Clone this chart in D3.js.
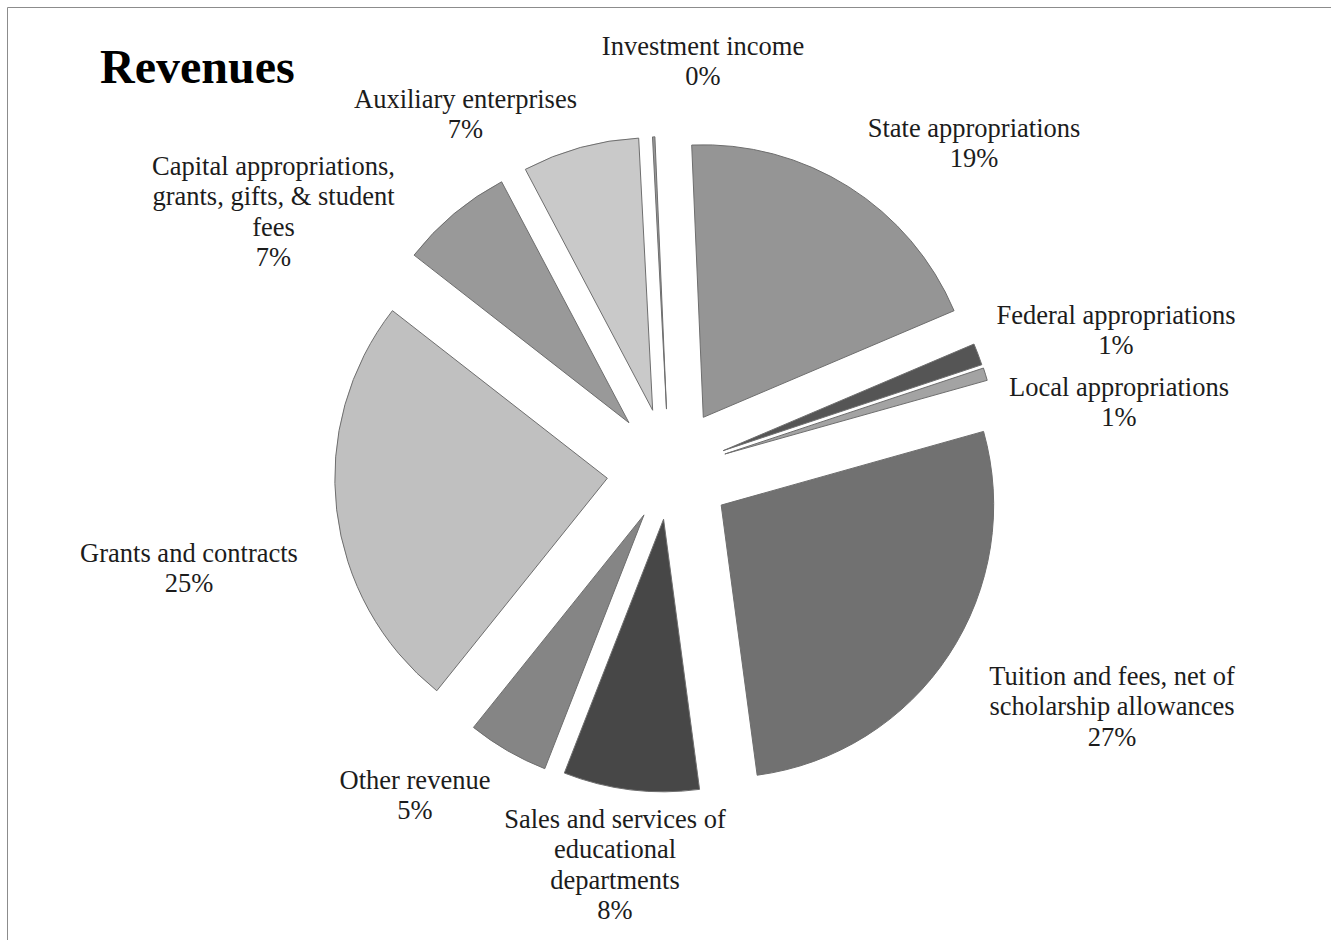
<!DOCTYPE html>
<html>
<head>
<meta charset="utf-8">
<title>Revenues</title>
<script src="https://cdn.jsdelivr.net/npm/d3@7"></script>
<style>
  html, body { margin: 0; padding: 0; background: #ffffff; }
  svg { display: block; }
</style>
</head>
<body>
<svg id="chart" width="1331" height="940"></svg>
<script>
// Revenue sources, clockwise from the top of the pie ("\n" marks label line breaks)
const categories = [
  "State appropriations",
  "Federal appropriations",
  "Local appropriations",
  "Tuition and fees, net of\nscholarship allowances",
  "Sales and services of\neducational\ndepartments",
  "Other revenue",
  "Grants and contracts",
  "Capital appropriations,\ngrants, gifts, & student\nfees",
  "Auxiliary enterprises",
  "Investment income"
];

// Share of total revenue, percent
const values = [19.28, 1.29, 0.75, 27.25, 8.04, 4.83, 24.78, 6.72, 6.92, 0.14];

// Slice fills
const shades = ["#959595", "#555555", "#a3a3a3", "#717171", "#474747",
                "#858585", "#c0c0c0", "#999999", "#c9c9c9", "#9a9a9a"];

// How far each slice is pulled out from the centre (px)
const explode = [63.5, 57.5, 58, 62, 48.6, 50.7, 62.5, 63, 63, 62];

// Label anchors: centre x, first baseline y
const labelAnchor = [
  [974, 137], [1116, 324], [1119, 395.5], [1112, 685], [615, 828],
  [415, 788.5], [189, 562], [273.5, 175], [465.5, 107.5], [703, 54.5]
];

const W = 1331, H = 940;
const cx = 669.4, cy = 471, R = 272.5;
const start = -2.44 * Math.PI / 180;
const lineGap = 30.4;

const svg = d3.select("#chart");

// frame
svg.append("path")
  .attr("d", `M7.5,${H} V7.5 H${W}`)
  .attr("fill", "none")
  .attr("stroke", "#8c8c8c")
  .attr("stroke-width", 1);

// title
svg.append("text")
  .attr("x", 100).attr("y", 83)
  .attr("font-family", "'Liberation Serif', 'Times New Roman', serif")
  .attr("font-weight", "bold")
  .attr("font-size", 48)
  .attr("fill", "#000")
  .text("Revenues");

const pie = d3.pie().sort(null).value(d => d)
  .startAngle(start).endAngle(start + 2 * Math.PI);
const arcs = pie(values);
const arc = d3.arc().innerRadius(0).outerRadius(R);
const total = d3.sum(values);
const pct = d3.format(".0%");

const g = svg.append("g").attr("transform", `translate(${cx},${cy})`);

g.selectAll("path.slice")
  .data(arcs)
  .join("path")
  .attr("class", "slice")
  .attr("transform", (d, i) => {
    const mid = (d.startAngle + d.endAngle) / 2;
    return `translate(${Math.sin(mid) * explode[i]},${-Math.cos(mid) * explode[i]})`;
  })
  .attr("d", arc)
  .attr("fill", (d, i) => shades[i])
  .attr("stroke", "#6e6e6e")
  .attr("stroke-width", 1)
  .attr("stroke-linejoin", "miter");

// data labels
const labels = svg.append("g")
  .attr("font-family", "'Liberation Serif', 'Times New Roman', serif")
  .attr("font-size", 26.5)
  .attr("fill", "#1c1c1c")
  .attr("text-anchor", "middle");

categories.forEach((name, i) => {
  const lines = name.split("\n").concat([pct(values[i] / total)]);
  const t = labels.append("text")
    .attr("x", labelAnchor[i][0])
    .attr("y", labelAnchor[i][1]);
  lines.forEach((ln, k) => {
    t.append("tspan")
      .attr("x", labelAnchor[i][0])
      .attr("y", labelAnchor[i][1] + k * lineGap)
      .text(ln);
  });
});
</script>
</body>
</html>
